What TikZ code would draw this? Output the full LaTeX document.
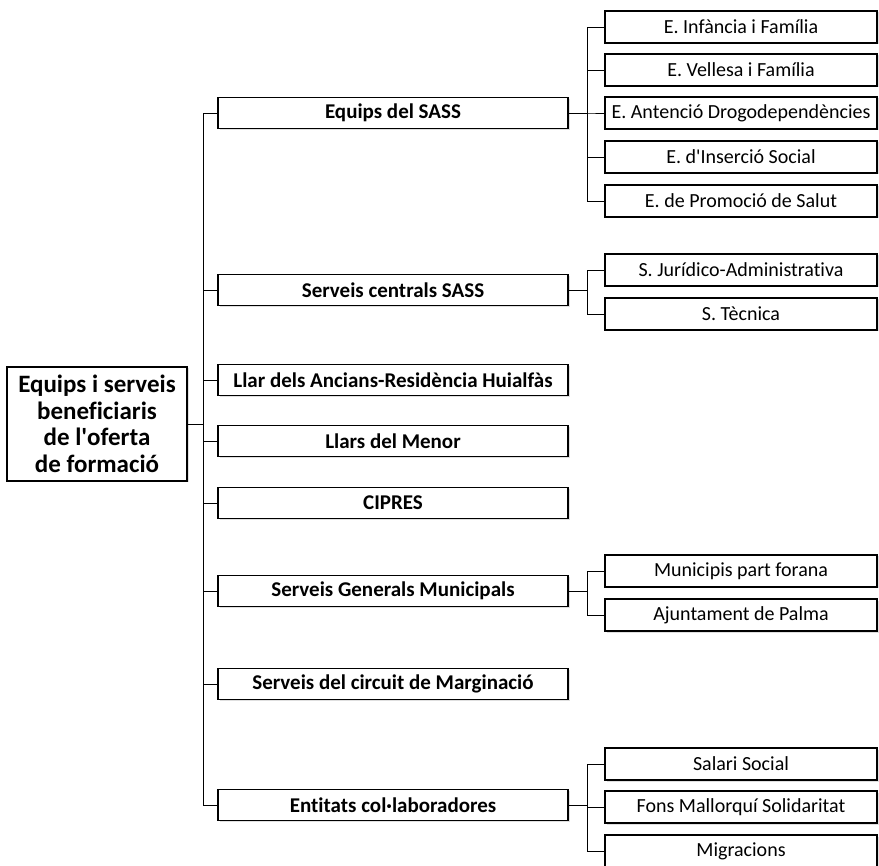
\documentclass[tikz,border=0pt]{standalone}
\usepackage{fontspec}
\setmainfont{Carlito}[Ligatures=NoCommon]
\usepackage{tikz}
\usetikzlibrary{positioning,shadows}

\begin{document}
\begin{tikzpicture}[x=1pt,y=-1pt,
  root/.style={draw,line width=1.1pt,fill=white,align=center,inner sep=0pt,
    minimum width=180pt,minimum height=114pt,
    font=\fontsize{25}{26.5}\selectfont\bfseries,
    drop shadow={shadow xshift=1.5pt,shadow yshift=-1.5pt,fill=black!25}},
  group/.style={draw,line width=1.1pt,fill=white,inner sep=0pt,
    minimum width=350pt,minimum height=31pt,
    font=\fontsize{21}{24}\selectfont\bfseries,
    drop shadow={shadow xshift=1.5pt,shadow yshift=-1.5pt,fill=black!25}},
  unit/.style={draw,line width=1.1pt,fill=white,inner sep=0pt,
    minimum width=272pt,minimum height=32pt,
    font=\fontsize{20}{23}\selectfont,
    drop shadow={shadow xshift=1.5pt,shadow yshift=-1.5pt,fill=black!25}},
  link/.style={line width=0.9pt}]

    \useasboundingbox (0,0) rectangle (879,866);

    % root of the tree
    \node[root](root) at (97,424){Equips i serveis\\beneficiaris\\de l\textquotesingle oferta\\de formació};

    % first level
    \node[group](eqsass) at (393,113){Equips del SASS};
    \node[group](scentr) at (393,290){Serveis centrals SASS};
    \node[group](llar)   at (393,380){Llar dels Ancians-Residència Huialfàs};
    \node[group](menor)  at (393,441){Llars del Menor};
    \node[group](cipres) at (393,503){CIPRES};
    \node[group](sgm)    at (393,591){Serveis Generals Municipals};
    \node[group](scirc)  at (393,684){Serveis del circuit de Marginació};
    \node[group](entit)  at (393,805){Entitats col·laboradores};

    % second level
    \node[unit](einf)  at (741,27){E. Infància i Família};
    \node[unit](evell) at (741,70){E. Vellesa i Família};
    \node[unit](edrog) at (741,113){E. Antenció Drogodependències};
    \node[unit](eins)  at (741,157){E. d\textquotesingle Inserció Social};
    \node[unit](eprom) at (741,201){E. de Promoció de Salut};

    \node[unit](sjur) at (741,270){S. Jurídico-Administrativa};
    \node[unit](stec) at (741,314){S. Tècnica};

    \node[unit](mpf)  at (741,571){Municipis part forana};
    \node[unit](ajpm) at (741,615){Ajuntament de Palma};

    \node[unit](salari)  at (741,764){Salari Social};
    \node[unit](fons)    at (741,807){Fons Mallorquí Solidaritat};
    \node[unit](migrac)  at (741,851){Migracions};

    % connectors
    \foreach \n in {eqsass,scentr,llar,menor,cipres,sgm,scirc,entit}
        \draw[link](root.east) -- ++(16,0) |- (\n.west);
    \foreach \n in {einf,evell,edrog,eins,eprom}
        \draw[link](eqsass.east) -- ++(19,0) |- (\n.west);
    \foreach \n in {sjur,stec}
        \draw[link](scentr.east) -- ++(19,0) |- (\n.west);
    \foreach \n in {mpf,ajpm}
        \draw[link](sgm.east) -- ++(19,0) |- (\n.west);
    \foreach \n in {salari,fons,migrac}
        \draw[link](entit.east) -- ++(19,0) |- (\n.west);
\end{tikzpicture}
\end{document}
